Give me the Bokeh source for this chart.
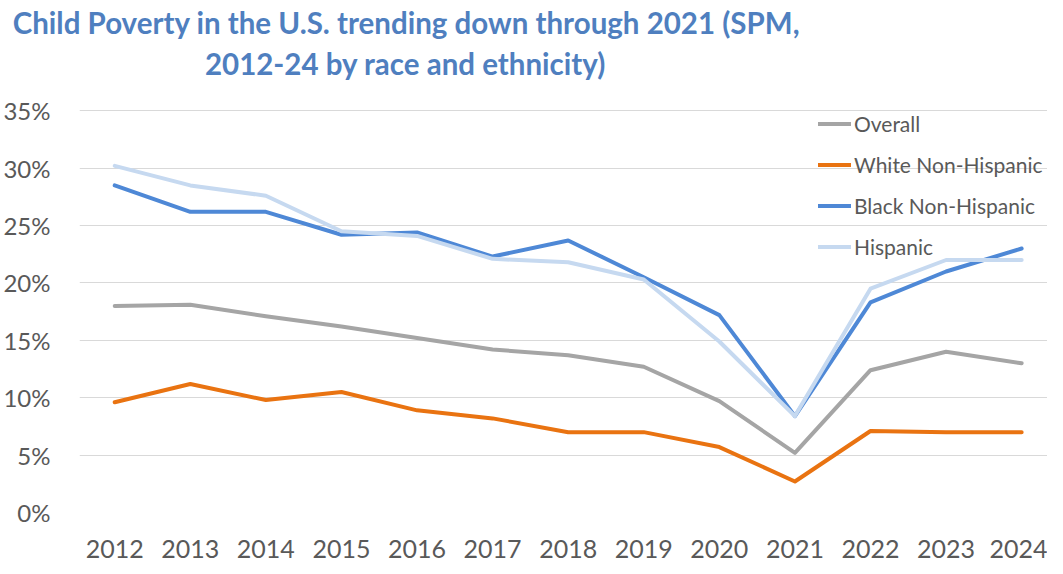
from bokeh.plotting import figure
from bokeh.layouts import column
from bokeh.models import (Range1d, FixedTicker, PrintfTickFormatter, Legend, LegendItem, Label)
from bokeh.embed import file_html
from bokeh.resources import INLINE

# ---- data ----
years = [2012, 2013, 2014, 2015, 2016, 2017, 2018, 2019, 2020, 2021, 2022, 2023, 2024]
overall = [18.0, 18.1, 17.1, 16.2, 15.2, 14.2, 13.7, 12.7, 9.7, 5.2, 12.4, 14.0, 13.0]
white_nh = [9.6, 11.2, 9.8, 10.5, 8.9, 8.2, 7.0, 7.0, 5.7, 2.7, 7.1, 7.0, 7.0]
black_nh = [28.5, 26.2, 26.2, 24.2, 24.4, 22.3, 23.7, 20.5, 17.2, 8.4, 18.3, 21.0, 23.0]
hispanic = [30.2, 28.5, 27.6, 24.5, 24.1, 22.1, 21.8, 20.3, 14.9, 8.4, 19.5, 22.0, 22.0]
series_names = ["Overall", "White Non-Hispanic", "Black Non-Hispanic", "Hispanic"]
series_colors = ["#A5A5A5", "#E97311", "#4E88D6", "#C6D9F0"]
y_ticks = [0, 5, 10, 15, 20, 25, 30, 35]
title_lines = ["Child Poverty in the U.S. trending down through 2021 (SPM,",
               "2012-24 by race and ethnicity)"]

FONT = "Lato"
TXT = "#595959"
W = 1047

# ---- title strip ----
TH = 90
t = figure(width=W, height=TH, output_backend="svg", toolbar_location=None,
           x_axis_type=None, y_axis_type=None,
           x_range=Range1d(0, W), y_range=Range1d(0, TH),
           min_border_left=0, min_border_right=0, min_border_top=0, min_border_bottom=0)
t.frame_align = False
t.grid.visible = False
t.outline_line_color = None
t.border_fill_color = "white"
title_x = [406, 405]
title_y = [68, 27]
for txt, tx, ty in zip(title_lines, title_x, title_y):
    t.add_layout(Label(x=tx, y=ty, text=txt, text_align="center", text_baseline="alphabetic",
                       text_font=FONT, text_font_style="bold", text_font_size="29.5px",
                       text_color="#4F7FBF"))

# ---- chart ----
p = figure(width=W, height=475, output_backend="svg", toolbar_location=None,
           x_range=Range1d(2011.534, 2024.342), y_range=Range1d(0, 35.2),
           min_border_left=70, min_border_right=0, min_border_top=18, min_border_bottom=53)
p.frame_align = False
p.outline_line_color = None
p.background_fill_color = "white"
p.border_fill_color = "white"

p.xaxis.ticker = FixedTicker(ticks=years)
p.yaxis.ticker = FixedTicker(ticks=y_ticks)
p.yaxis.formatter = PrintfTickFormatter(format="%d%%")
for ax in (p.xaxis[0], p.yaxis[0]):
    ax.axis_line_color = None
    ax.major_tick_line_color = None
    ax.minor_tick_line_color = None
    ax.major_label_text_font = FONT
    ax.major_label_text_color = TXT
p.xaxis.major_label_text_font_size = "25px"
p.yaxis.major_label_text_font_size = "24px"
p.xaxis.major_label_standoff = 21
p.yaxis.major_label_standoff = 23

p.xgrid.grid_line_color = None
p.ygrid.grid_line_color = "#D9D9D9"
p.ygrid.grid_line_width = 1

renderers = []
for name, vals, col in zip(series_names, [overall, white_nh, black_nh, hispanic], series_colors):
    r = p.line(years, vals, line_color=col, line_width=4, line_join="round", line_cap="round")
    renderers.append(r)

legend = Legend(items=[LegendItem(label=n, renderers=[r]) for n, r in zip(series_names, renderers)],
                location=(739, 245), orientation="vertical",
                glyph_width=33, glyph_height=41, label_height=41, label_standoff=3,
                spacing=0, padding=0, margin=0,
                label_text_font=FONT, label_text_font_size="21px", label_text_color=TXT,
                background_fill_alpha=0, border_line_alpha=0)
p.add_layout(legend, "center")

layout = column(t, p, spacing=0)
open("out.html", "w").write(file_html(layout, INLINE))
